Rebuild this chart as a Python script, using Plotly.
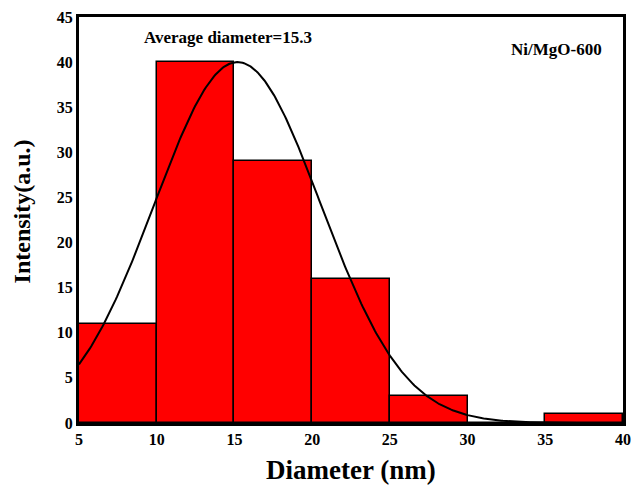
import numpy as np
import plotly.graph_objects as go

bin_left = [5, 10, 15, 20, 25, 30, 35]
bin_width = 5
counts = [11, 40, 29, 16, 3, 0, 1]
x_ticks = [5, 10, 15, 20, 25, 30, 35, 40]
y_ticks = [0, 5, 10, 15, 20, 25, 30, 35, 40, 45]

fit_mean = 15.2
fit_sigma = 5.35
fit_amp = 40.0

FONT = "Liberation Serif"

fig = go.Figure()
centers = [b + bin_width / 2 for b in bin_left]
fig.add_trace(go.Bar(
    x=centers, y=counts, width=[bin_width] * len(counts),
    marker=dict(color="#ff0000", line=dict(color="black", width=1.5)),
    showlegend=False, hoverinfo="skip",
))
xf = np.linspace(5, 40, 400)
yf = fit_amp * np.exp(-(xf - fit_mean) ** 2 / (2 * fit_sigma ** 2))
fig.add_trace(go.Scatter(x=xf, y=yf, mode="lines",
                         line=dict(color="black", width=2), showlegend=False))

axis_common = dict(showline=True, linecolor="black", linewidth=3, mirror=True,
                   showgrid=False, zeroline=False, ticks="", layer="above traces",
                   automargin=False,
                   tickfont=dict(family=FONT, size=16, color="black"))
fig.update_xaxes(range=[5, 40], tickvals=x_ticks, ticktext=[f"<b>{v}</b>" for v in x_ticks],
                 **axis_common)
fig.update_yaxes(range=[0, 45], tickvals=y_ticks, ticktext=[f"<b>{v}</b>" for v in y_ticks],
                 **axis_common)
fig.add_annotation(x=0.5, y=-0.116, xref="paper", yref="paper", text="<b>Diameter (nm)</b>",
                   showarrow=False, xanchor="center", yanchor="middle",
                   font=dict(family=FONT, size=27, color="black"))
fig.add_annotation(x=-0.103, y=0.521, xref="paper", yref="paper", text="<b>Intensity(a.u.)</b>",
                   showarrow=False, xanchor="center", yanchor="middle", textangle=-90,
                   font=dict(family=FONT, size=24, color="black"))
fig.add_annotation(x=14.6, y=42.7, xref="x", yref="y", text="<b>Average diameter=15.3</b>",
                   showarrow=False, font=dict(family=FONT, size=17, color="black"))
fig.add_annotation(x=35.7, y=41.35, xref="x", yref="y", text="<b>Ni/MgO-600</b>",
                   showarrow=False, font=dict(family=FONT, size=17, color="black"))
fig.update_layout(width=635, height=491, margin=dict(l=79, r=12, t=17, b=68),
                  plot_bgcolor="white", paper_bgcolor="white", bargap=0)
fig.write_html("out.html")
